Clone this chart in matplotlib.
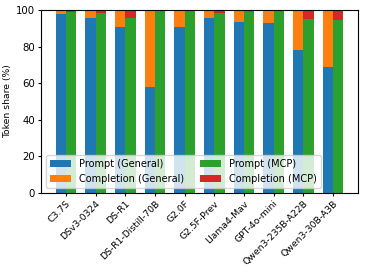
import matplotlib
matplotlib.use("Agg")
import matplotlib.pyplot as plt
import numpy as np

models = ["C3.7S", "DSv3-0324", "DS-R1", "DS-R1-Distill-70B", "G2.0F",
          "G2.5F-Prev", "Llama4-Mav", "GPT-4o-mini", "Qwen3-235B-A22B",
          "Qwen3-30B-A3B"]
prompt_general = [97.8, 96.0, 90.7, 58.2, 91.1, 96.0, 93.8, 93.3, 78.5, 68.9]
prompt_mcp = [98.9, 98.7, 95.6, 99.5, 99.8, 98.5, 99.9, 99.5, 95.3, 94.9]
completion_general = [100 - v for v in prompt_general]
completion_mcp = [100 - v for v in prompt_mcp]

fs = 7
x = np.arange(len(models))
w = 0.35

fig, ax = plt.subplots(figsize=(3.65, 2.74), dpi=100)
ax.bar(x - w / 2, prompt_general, w, color="#1f77b4", label="Prompt (General)")
ax.bar(x - w / 2, completion_general, w, bottom=prompt_general,
       color="#ff7f0e", label="Completion (General)")
ax.bar(x + w / 2, prompt_mcp, w, color="#2ca02c", label="Prompt (MCP)")
ax.bar(x + w / 2, completion_mcp, w, bottom=prompt_mcp,
       color="#d62728", label="Completion (MCP)")

ax.set_ylim(0, 100)
ax.set_ylabel("Token share (%)", fontsize=fs - 0.3, labelpad=3)
ax.set_xticks(x)
ax.set_xticklabels(models, rotation=45, ha="right", rotation_mode="anchor",
                   fontsize=fs - 0.3)
ax.tick_params(axis="y", labelsize=fs + 0.3, length=2.5, pad=2)
ax.tick_params(axis="x", length=2.5, pad=2)
ax.legend(loc="lower left", ncol=2, fontsize=fs, framealpha=0.8,
          handlelength=2.2, columnspacing=1.6)

fig.subplots_adjust(left=0.113, right=0.98, top=0.962, bottom=0.297)
fig.savefig("out.png", dpi=100)
